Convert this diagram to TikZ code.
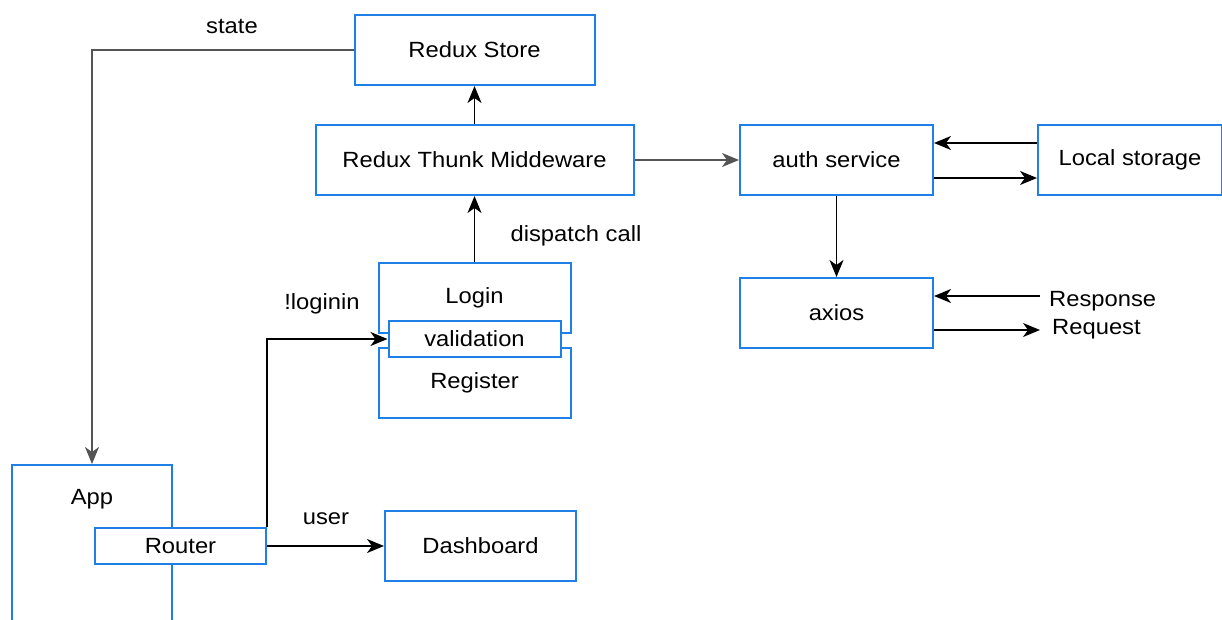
\documentclass[tikz,border=0pt]{standalone}
\usepackage{fontspec}
\setmainfont{Liberation Sans}[FakeStretch=1.08]
\usetikzlibrary{arrows.meta}
\definecolor{boxblue}{RGB}{30,128,230}
\definecolor{linegray}{RGB}{85,85,85}
\begin{document}
\begin{tikzpicture}[x=1pt,y=-1pt,
  box/.style={draw=boxblue,line width=2pt,fill=white,rectangle,inner sep=0pt,font=\fontsize{22}{26}\selectfont},
  txt/.style={font=\fontsize{22}{26}\selectfont,inner sep=0pt},
  conn/.style={line width=1.6pt,-{Stealth[length=17pt,width=14pt,inset=5pt]}}
]
\useasboundingbox (0,0) rectangle (1222,620);
% boxes
\node[box,minimum width=240pt,minimum height=70pt] (store) at (474.5,50) {Redux Store};
\node[box,minimum width=318pt,minimum height=70pt] (thunk) at (474.5,160) {Redux Thunk Middeware};
\node[box,minimum width=193pt,minimum height=70pt] (auth) at (836.5,160) {auth service};
\node[box,minimum width=184pt,minimum height=70pt] (local) at (1130,160) {Local storage};
\node[box,minimum width=193pt,minimum height=70pt] (axios) at (836.5,313) {axios};
\node[box,minimum width=192pt,minimum height=70pt] (login) at (474.5,298) {Login};
\node[box,minimum width=192pt,minimum height=70pt] (register) at (474.5,383) {Register};
\node[box,minimum width=172pt,minimum height=36pt] (valid) at (474.5,339) {validation};
\node[box,minimum width=160pt,minimum height=180pt] (app) at (92,555) {};
\node[txt] (apptxt) at (92,499) {App};
\node[box,minimum width=171pt,minimum height=36pt] (router) at (180.5,546) {Router};
\node[box,minimum width=191pt,minimum height=70pt] (dash) at (480.5,546) {Dashboard};
% free ends
\coordinate (resp) at (1040,296);
\coordinate (req) at (1040,330);
% connectors
\draw[conn,linegray] (store.west) -| (app.north);
\draw[conn] (thunk.north) -- (store.south);
\draw[conn] (login.north) -- (thunk.south);
\draw[conn,linegray] (thunk.east) -- (auth.west);
\draw[conn] ([yshift=17pt]local.west) -- ([yshift=17pt]auth.east);
\draw[conn] ([yshift=-18pt]auth.east) -- ([yshift=-18pt]local.west);
\draw[conn] (auth.south) -- (axios.north);
\draw[conn] (resp) -- (axios.east |- resp);
\draw[conn] (axios.east |- req) -- (req);
\draw[conn] (router.north east) |- (valid.west);
\draw[conn] (router.east) -- (dash.west);
% labels
\node[txt] (lstate) at (232,26) {state};
\node[txt] (ldispatch) at (576,236) {dispatch call};
\node[txt] (llogin) at (322,304) {!loginin};
\node[txt] (luser) at (326,519) {user};
\node[txt,anchor=west] (lresp) at (1049,301) {Response};
\node[txt,anchor=west] (lreq) at (1052,329) {Request};
\end{tikzpicture}
\end{document}
